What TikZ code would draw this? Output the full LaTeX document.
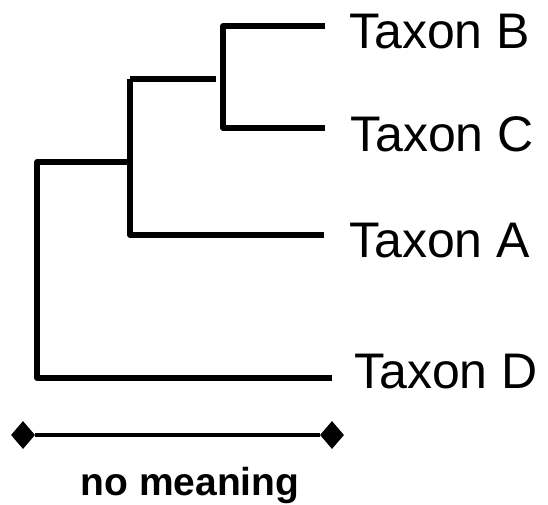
\documentclass[tikz,border=0pt]{standalone}
\usepackage{fontspec}
\setmainfont{Liberation Sans}
\usetikzlibrary{positioning}
\usetikzlibrary{shapes.geometric}

\tikzset{
  branch/.style={line width=5.5pt, line join=round},
  taxon/.style={anchor=base west, inner sep=0pt, font=\fontsize{50}{60}\selectfont},
  endmark/.style={diamond, fill=black, inner sep=0pt, minimum width=24pt, minimum height=28pt},
  scalebar/.style={line width=4pt}
}

\begin{document}
\begin{tikzpicture}[x=1pt, y=-1pt]
    \useasboundingbox (0,0) rectangle (548,504);

    % Define nodes
    \coordinate (root)  at (37,162);
    \coordinate (rootD) at (37,378);
    \coordinate (abc)   at (130,162);
    \coordinate (abcT)  at (130,79);
    \coordinate (abcA)  at (130,235);
    \coordinate (stem)  at (216,79);
    \coordinate (bcB)   at (223,26);
    \coordinate (bcC)   at (223,128);

    \coordinate (b) at (325,26);
    \coordinate (c) at (325,128);
    \coordinate (a) at (324,235);
    \coordinate (d) at (332,378);

    \node[taxon] (tb) at (349,48)  {Taxon B};
    \node[taxon] (tc) at (350,151) {Taxon C};
    \node[taxon] (ta) at (349,257) {Taxon A};
    \node[taxon] (td) at (354,388) {Taxon D};

    \node[endmark] (s1) at (23,435)  {};
    \node[endmark] (s2) at (332,435) {};
    \node[anchor=base, inner sep=0pt, font=\fontsize{39}{46}\selectfont\bfseries] (nm) at (190,495) {no meaning};

    % Connect nodes
    \draw[branch] (abc) -- (root) -- (rootD) -- (d);
    \draw[branch] (abcT) -- (abcA) -- (a);
    \draw[branch] (abcT) -- (stem);
    \draw[branch] (b) -- (bcB) -- (bcC) -- (c);

    % scale bar
    \draw[scalebar] (s1) -- (s2);
\end{tikzpicture}
\end{document}
